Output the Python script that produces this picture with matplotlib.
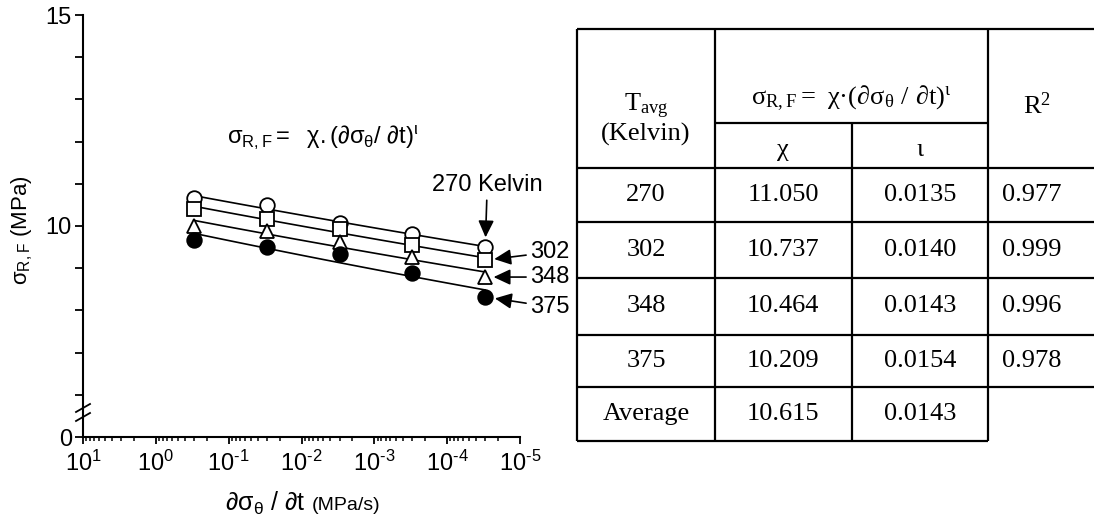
import numpy as np
import matplotlib
matplotlib.use('Agg')
import matplotlib.pyplot as plt
from matplotlib.ticker import FixedLocator, FixedFormatter, LogLocator, FuncFormatter

plt.rcParams['font.family'] = ['Liberation Sans', 'DejaVu Sans']
plt.rcParams['mathtext.fontset'] = 'custom'
plt.rcParams['mathtext.rm'] = 'Liberation Sans'
plt.rcParams['mathtext.it'] = 'Liberation Sans:italic'
plt.rcParams['axes.unicode_minus'] = False

# ---------------- data ----------------
rate = [0.3, 0.03, 0.003, 0.0003, 0.00003]          # MPa/s
series_labels = ['270', '302', '348', '375']
sigma_270 = [10.66, 10.50, 10.07, 9.81, 9.50]
sigma_302 = [10.40, 10.17, 9.93, 9.55, 9.19]
sigma_348 = [10.00, 9.88, 9.62, 9.27, 8.79]
sigma_375 = [9.67, 9.50, 9.34, 8.89, 8.32]

ytick_vals = [0, 6, 7, 8, 9, 10, 11, 12, 13, 14, 15]
ytick_labels = ['0', '', '', '', '', '10', '', '', '', '', '15']

tbl_temps = ['270', '302', '348', '375', 'Average']
tbl_chi = ['11.050', '10.737', '10.464', '10.209', '10.615']
tbl_iota = ['0.0135', '0.0140', '0.0143', '0.0154', '0.0143']
tbl_r2 = ['0.977', '0.999', '0.996', '0.978']

# ---------------- figure ----------------
W, H = 1094, 522
fig = plt.figure(figsize=(W / 100, H / 100), dpi=100)
ax = fig.add_axes([83 / W, 1 - 437 / H, (520 - 83) / W, (437 - 15) / H])


def fwd(y):
    y = np.asarray(y, dtype=float)
    return np.where(y >= 6, y, 5 + y / 6.0)


def inv(v):
    v = np.asarray(v, dtype=float)
    return np.where(v >= 6, v, (v - 5) * 6.0)


ax.set_xscale('log')
ax.set_yscale('function', functions=(fwd, inv))
ax.set_xlim(10, 1e-5)
ax.set_ylim(0, 15)

series = [sigma_270, sigma_302, sigma_348, sigma_375]
styles = [dict(marker='o', mfc='white', ms=10.5),
          dict(marker='s', mfc='white', ms=10),
          dict(marker='^', mfc='white', ms=10.5),
          dict(marker='o', mfc='black', ms=10.5)]

lx = np.log(rate)
for s in series:
    b, a = np.polyfit(lx, np.log(s), 1)
    xx = np.geomspace(rate[0], rate[-1], 60)
    ax.plot(xx, np.exp(a) * xx ** b, color='black', lw=1.2, zorder=2)
for s, st in zip(series, styles):
    ax.plot(rate, s, ls='none', mec='black', mew=1.3, zorder=3, **st)

for sp in ['top', 'right']:
    ax.spines[sp].set_visible(False)
for sp in ['left', 'bottom']:
    ax.spines[sp].set_linewidth(1.5)


def log_fmt(v, pos):
    e = int(round(np.log10(v)))
    if e < 0:
        return r'$\mathregular{10^{\text{-}%d}}$' % (-e)
    return r'$\mathregular{10^{%d}}$' % e


ax.xaxis.set_major_locator(LogLocator(base=10, numticks=30))
ax.xaxis.set_minor_locator(LogLocator(base=10, subs=np.arange(2, 10), numticks=30))
ax.xaxis.set_major_formatter(FuncFormatter(log_fmt))
ax.yaxis.set_major_locator(FixedLocator(ytick_vals))
ax.yaxis.set_major_formatter(FixedFormatter(ytick_labels))
ax.yaxis.set_minor_locator(FixedLocator([]))
ax.tick_params(axis='y', which='major', length=6, width=1.3, labelsize=17, pad=2)
ax.tick_params(axis='x', which='major', length=5, width=1.3, labelsize=17, pad=5)
ax.tick_params(axis='x', which='minor', length=3, width=1.1)

# axis break marks
for yp in (408, 417):
    f = (437 - yp) / 422.0
    ax.plot([-7 / 437, 7 / 437], [f - 4 / 422, f + 4 / 422], transform=ax.transAxes,
            color='black', lw=1.3, clip_on=False, zorder=5)

# axis labels
fig.text(22 / W, 1 - 230 / H, r'$\mathregular{σ_{R,F}}$ (MPa)', rotation=90,
         ha='center', va='center', fontsize=16)
fig.text(305 / W, 1 - 503 / H, r'$\mathregular{∂σ_θ\ /\ ∂t}$', ha='right', va='center',
         fontsize=18)
fig.text(312 / W, 1 - 505 / H, '(MPa/s)', ha='left', va='center', fontsize=14)

# formula in chart
fig.text(227 / W, 1 - 137 / H, r'$\mathregular{σ_{R,F} =\ \ χ.(∂σ_θ/\ ∂t)^ι}$',
         ha='left', va='center', fontsize=17)

# annotations
afs = 17
arrow = dict(arrowstyle='-|>,head_length=0.6,head_width=0.28', color='black', lw=1.2,
             shrinkA=1)
ax.annotate('270 Kelvin', xy=(rate[-1], sigma_270[-1]), xytext=(2, 62),
            textcoords='offset pixels', ha='center', va='center', fontsize=afs,
            arrowprops=dict(arrow, shrinkB=7))
ax.annotate('302', xy=(rate[-1], sigma_302[-1]), xytext=(45, 8),
            textcoords='offset pixels', ha='left', va='center', fontsize=afs,
            arrowprops=dict(arrow, shrinkB=6.5), annotation_clip=False)
ax.annotate('348', xy=(rate[-1], sigma_348[-1]), xytext=(45, 0),
            textcoords='offset pixels', ha='left', va='center', fontsize=afs,
            arrowprops=dict(arrow, shrinkB=6), annotation_clip=False)
ax.annotate('375', xy=(rate[-1], sigma_375[-1]), xytext=(45, -10),
            textcoords='offset pixels', ha='left', va='center', fontsize=afs,
            arrowprops=dict(arrow, shrinkB=7), annotation_clip=False)

# ---------------- table ----------------
tax = fig.add_axes([0, 0, 1, 1])
tax.set_xlim(0, W)
tax.set_ylim(H, 0)
tax.axis('off')

xL, x1, x2, x3, xR = 577, 715, 852, 988, 1110
yT, ySub, yH = 29, 123, 168
row_bottoms = [222, 278, 335, 387, 441]
lw_t = 1.6

tax.hlines([yT, yH] + row_bottoms[:-1], xL, xR, color='black', lw=lw_t)
tax.hlines([row_bottoms[-1]], xL, x3, color='black', lw=lw_t)
tax.hlines([ySub], x1, x3, color='black', lw=lw_t)
tax.vlines([xL, x1, x3], yT, row_bottoms[-1], color='black', lw=lw_t)
tax.vlines([x2], ySub, row_bottoms[-1], color='black', lw=lw_t)

serif = ['Liberation Serif', 'DejaVu Serif']
tfs = 19
tax.text(646, 106, r'$\mathregular{T_{avg}}$', ha='center', va='center', fontsize=tfs,
         family=serif)
tax.text(646, 134, '(Kelvin)', ha='center', va='center', fontsize=tfs, family=serif)
tax.text(851, 98, r'$\mathregular{σ_{R,F}{=}\ χ{·}(∂σ_θ\ /\ ∂t)^ι}$', ha='center',
         va='center', fontsize=tfs, family=serif)
tax.text(783, 150, 'χ', ha='center', va='center', fontsize=tfs, family=serif)
tax.text(920, 150, 'ι', ha='center', va='center', fontsize=tfs, family=serif)
tax.text(1037, 106, r'R$\mathregular{^2}$', ha='center', va='center', fontsize=tfs,
         family=serif)

row_tops = [yH] + row_bottoms[:-1]
centers = [(t + b) / 2 for t, b in zip(row_tops, row_bottoms)]
for i, yc in enumerate(centers):
    tax.text(646, yc, tbl_temps[i], ha='center', va='center', fontsize=tfs, family=serif)
    tax.text(783, yc, tbl_chi[i], ha='center', va='center', fontsize=tfs, family=serif)
    tax.text(920, yc, tbl_iota[i], ha='center', va='center', fontsize=tfs, family=serif)
    if i < len(tbl_r2):
        tax.text(1032, yc, tbl_r2[i], ha='center', va='center', fontsize=tfs,
                 family=serif)

fig.savefig('out.png', dpi=100)
